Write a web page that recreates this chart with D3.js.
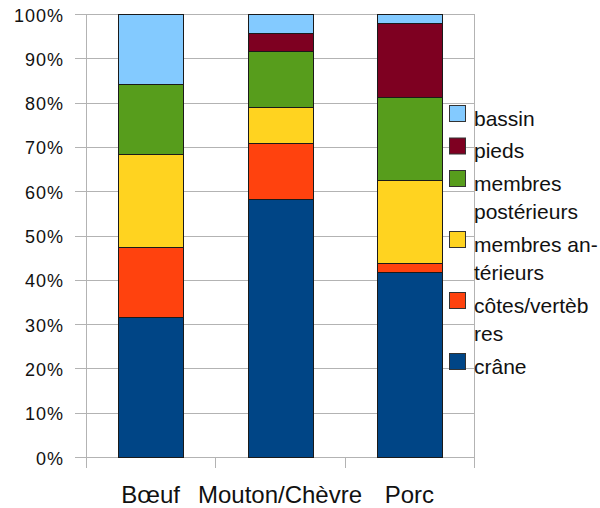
<!DOCTYPE html>
<html>
<head>
<meta charset="utf-8">
<script src="https://cdn.jsdelivr.net/npm/d3@7"></script>
<style>
  html, body { margin: 0; padding: 0; background: #fff; }
  svg { display: block; font-family: "Liberation Sans", Arial, sans-serif; }
</style>
</head>
<body>
<svg id="chart" width="600" height="508"></svg>
<script>
// Animal categories along the x axis
const categories = ["Bœuf", "Mouton/Chèvre", "Porc"];

// Body parts, bottom of the stack first
const parts = ["crâne", "côtes/vertèbres", "membres antérieurs", "membres postérieurs", "pieds", "bassin"];

// Share of each body part (%) per animal, in the order of `categories`
const crane      = [31.6, 58.3, 41.7];
const cotes      = [15.8, 12.5, 2.1];
const anterieurs = [21.1, 8.3, 18.7];
const posterieurs= [15.8, 12.5, 18.7];
const pieds      = [0.0, 4.2, 16.7];
const bassin     = [15.7, 4.2, 2.1];

const partColors = ["#004586", "#ff420e", "#ffd320", "#579d1c", "#7e0021", "#83caff"];

// Legend entries, top to bottom, with their wrapped lines
const legendLines = [
  ["bassin"],
  ["pieds"],
  ["membres", "postérieurs"],
  ["membres an-", "térieurs"],
  ["côtes/vertèb", "res"],
  ["crâne"]
];
const legendParts = ["bassin", "pieds", "membres postérieurs", "membres antérieurs", "côtes/vertèbres", "crâne"];

const yTicks = [0, 10, 20, 30, 40, 50, 60, 70, 80, 90, 100];

// Build table rows for the stack layout
const seriesValues = [crane, cotes, anterieurs, posterieurs, pieds, bassin];
const rows = categories.map((c, i) => {
  const r = { category: c };
  parts.forEach((p, j) => { r[p] = seriesValues[j][i]; });
  return r;
});

const svg = d3.select("#chart");
const plotLeft = 86, plotRight = 474, plotTop = 14, plotBottom = 457;

const x = d3.scaleBand().domain(categories).range([plotLeft, plotRight])
  .paddingInner(0.5).paddingOuter(0.25);
const y = d3.scaleLinear().domain([0, 100]).range([plotBottom, plotTop]);
const color = d3.scaleOrdinal().domain(parts).range(partColors);

// Horizontal grid lines with small ticks reaching left of the axis
svg.append("g").selectAll("line").data(yTicks).join("line")
  .attr("x1", plotLeft - 11).attr("x2", plotRight)
  .attr("y1", d => Math.round(y(d)) + 0.5).attr("y2", d => Math.round(y(d)) + 0.5)
  .attr("stroke", "#b3b3b3").attr("stroke-width", 1);

// Vertical frame lines and category separators
const sepX = d3.range(categories.length + 1).map(i => plotLeft + x.step() * i);
svg.append("g").selectAll("line").data(sepX).join("line")
  .attr("x1", d => Math.round(d) + 0.5).attr("x2", d => Math.round(d) + 0.5)
  .attr("y1", (d, i) => (i === 0 || i === sepX.length - 1) ? plotTop : plotBottom)
  .attr("y2", plotBottom + 11)
  .attr("stroke", "#b3b3b3").attr("stroke-width", 1);

// Y tick labels
svg.append("g").selectAll("text").data(yTicks).join("text")
  .attr("x", 64).attr("y", d => y(d) + 7.5)
  .attr("text-anchor", "end")
  .attr("font-size", 18).attr("letter-spacing", 1)
  .attr("fill", "#111")
  .text(d => d + "%");

// Stacked bars
const stacked = d3.stack().keys(parts)(rows);
svg.append("g").selectAll("g").data(stacked).join("g")
  .attr("fill", d => color(d.key))
  .selectAll("rect").data(d => d.filter(s => s[1] - s[0] > 0)).join("rect")
  .attr("x", d => Math.round(x(d.data.category)) + 0.5)
  .attr("width", Math.round(x.bandwidth()))
  .attr("y", d => Math.round(y(d[1])) + 0.5)
  .attr("height", d => Math.round(y(d[0])) - Math.round(y(d[1])))
  .attr("stroke", "#1a1a1a").attr("stroke-width", 1);

// Category labels
svg.append("g").selectAll("text").data(categories).join("text")
  .attr("x", d => x(d) + x.bandwidth() / 2)
  .attr("y", 503)
  .attr("text-anchor", "middle")
  .attr("font-size", 24)
  .attr("fill", "#111")
  .text(d => d);

// Legend
const lineH = 28.5, entryStep = 32.5;
let yPos = 105;
const legend = svg.append("g");
legendLines.forEach((lines, i) => {
  const g = legend.append("g").attr("transform", `translate(0,${yPos})`);
  g.append("rect")
    .attr("x", 449.5).attr("y", 0.5).attr("width", 16).attr("height", 16)
    .attr("fill", color(legendParts[i])).attr("stroke", "#333").attr("stroke-width", 1);
  g.selectAll("text").data(lines).join("text")
    .attr("x", 474).attr("y", (d, k) => 20.5 + k * lineH)
    .attr("font-size", 21).attr("fill", "#111")
    .text(d => d);
  yPos += entryStep + (lines.length - 1) * lineH;
});
</script>
</body>
</html>
